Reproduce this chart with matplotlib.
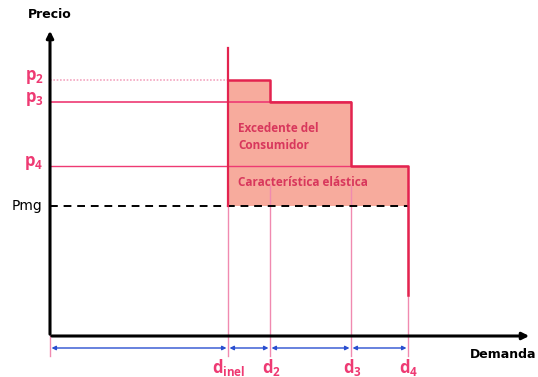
import matplotlib
matplotlib.use("Agg")
import matplotlib.pyplot as plt

plt.rcParams["mathtext.fontset"] = "custom"
plt.rcParams["mathtext.rm"] = "Open Sans"
plt.rcParams["mathtext.it"] = "Open Sans"
plt.rcParams["mathtext.bf"] = "Open Sans:bold"

# Data (abstract units)
demand_labels = [r"$\mathbf{d_{inel}}$", r"$\mathbf{d_2}$", r"$\mathbf{d_3}$", r"$\mathbf{d_4}$"]
demand = [17.8, 22.0, 30.1, 35.8]
price_labels = [r"$\mathbf{p_2}$", r"$\mathbf{p_3}$", r"$\mathbf{p_4}$"]
prices = [25.6, 23.4, 17.0]
pmg = 13.0
top_inel = 28.8
d4_bottom = 4.1

PINK = "#ee3a73"
RED = "#e3234f"
LIGHT = "#f08ab0"
FILL = "#f7ab9d"
TXT = "#d8375c"

fig = plt.figure(figsize=(5.38, 3.77), dpi=100)
ax = fig.add_axes([0, 0, 1, 1])
ax.set_xlim(-5.0, 48.8)
ax.set_ylim(-4.1, 33.6)
ax.axis("off")

# fill (consumer surplus)
ax.fill_between(demand, [prices[0], prices[1], prices[2], prices[2]], pmg,
                step="post", color=FILL, zorder=1, lw=0)

# horizontal reference lines
ax.plot([0, demand[0]], [prices[0], prices[0]], color="#f4a6c0", lw=1.2, ls=(0, (1, 1)), zorder=2)
ax.plot([0, demand[2]], [prices[1], prices[1]], color=PINK, lw=1.2, zorder=2)
ax.plot([0, demand[3]], [prices[2], prices[2]], color=PINK, lw=1.0, zorder=2)
ax.plot([0, demand[3]], [pmg, pmg], color="black", lw=1.4, ls=(0, (4, 3)), zorder=3)

# vertical thin lines
for d in demand:
    ax.plot([d, d], [-2.0, pmg + 2], color=LIGHT, lw=1.0, zorder=2)
ax.plot([0, 0], [-2.0, 0], color=LIGHT, lw=1.0, zorder=2)

# step curve
ax.plot([demand[0], demand[0]], [pmg, top_inel], color=RED, lw=1.6, zorder=4)
step_x = [demand[0], demand[1], demand[1], demand[2], demand[2], demand[3], demand[3]]
step_y = [prices[0], prices[0], prices[1], prices[1], prices[2], prices[2], d4_bottom]
ax.plot(step_x, step_y, color=RED, lw=1.8, zorder=4)

# axes with arrows
ax.annotate("", xy=(0, 30.8), xytext=(0, -0.1),
            arrowprops=dict(arrowstyle="-|>", color="black", lw=2.2, mutation_scale=10))
ax.annotate("", xy=(48.2, 0), xytext=(-0.1, 0),
            arrowprops=dict(arrowstyle="-|>", color="black", lw=2.2, mutation_scale=10))

# blue double arrows
bounds = [0] + demand
for a, b in zip(bounds[:-1], bounds[1:]):
    ax.annotate("", xy=(b - 0.15, -1.2), xytext=(a + 0.15, -1.2),
                arrowprops=dict(arrowstyle="<|-|>", color="#2a4fd0", lw=1.0,
                                mutation_scale=6, shrinkA=0, shrinkB=0))

# labels
ax.text(-2.2, 32.1, "Precio", fontsize=9, fontweight="bold", ha="left", va="center",
        family="DejaVu Sans")
ax.text(42.0, -1.9, "Demanda", fontsize=9, fontweight="bold", ha="left", va="center",
        family="DejaVu Sans")
for lab, p in zip(price_labels, prices):
    ax.text(-1.6, p + 0.3, lab, fontsize=12, color=PINK, ha="center", va="center",
            family="Open Sans")
ax.text(-2.3, pmg, "Pmg", fontsize=10, color="black", ha="center", va="center",
        family="DejaVu Sans")
for lab, d in zip(demand_labels, demand):
    ax.text(d + 0.1, -3.2, lab, fontsize=12, color=PINK, ha="center", va="center",
            family="Open Sans")

ax.text(demand[0] + 1.0, 19.9, "Excedente del\nConsumidor", fontsize=8.5, color=TXT,
        fontweight="bold", ha="left", va="center", linespacing=1.45, family="Open Sans")
ax.text(demand[0] + 1.0, 15.4, "Característica elástica", fontsize=8.5, color=TXT,
        fontweight="bold", ha="left", va="center", family="Open Sans")

fig.savefig("out.png", dpi=100)
